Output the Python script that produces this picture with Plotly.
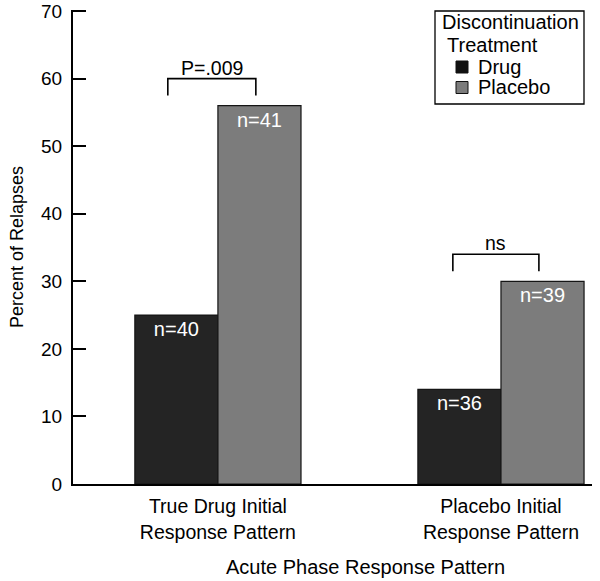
import plotly.graph_objects as go

# ---- data ----
categories = ["True Drug Initial<br>Response Pattern", "Placebo Initial<br>Response Pattern"]
series_names = ["Drug", "Placebo"]
series_colors = ["#242424", "#7c7c7c"]
drug_values = [25, 14]
placebo_values = [56, 30]
drug_n = ["n=40", "n=36"]
placebo_n = ["n=41", "n=39"]
y_ticks = [0, 10, 20, 30, 40, 50, 60, 70]
legend_title = ["Discontinuation", "Treatment"]
# significance brackets: (group index, left offset, right offset, top y, leg bottom y, label)
brackets = [
    (0, -0.177, 0.134, 60.0, 57.5, "P=.009"),
    (1, -0.170, 0.134, 34.0, 31.5, "ns"),
]

FONT = "Liberation Sans, Arial, Helvetica, sans-serif"

FIG_W, FIG_H = 600, 581
# plot-area geometry in pixels (for placing legend/annotations)
L, R, T, B = 73, 592, 10, 484
W, H = R - L, B - T
def px(x):
    return (x - L) / W
def py(y):
    return (B - y) / H

fig = go.Figure()
for name, color, vals, ns in [(series_names[0], series_colors[0], drug_values, drug_n),
                              (series_names[1], series_colors[1], placebo_values, placebo_n)]:
    fig.add_trace(go.Bar(
        x=categories, y=vals, name=name,
        marker=dict(color=color, line=dict(color="#151515", width=1.2)),
        text=ns, textposition="inside", insidetextanchor="end",
        textfont=dict(color="white", size=20, family=FONT),
        textangle=0, showlegend=False,
    ))

for gi, lo, ro, ytop, ybot, label in brackets:
    x0, x1 = gi + lo, gi + ro
    fig.add_shape(type="path",
                  path=f"M {x0},{ybot} L {x0},{ytop} L {x1},{ytop} L {x1},{ybot}",
                  xref="x", yref="y", line=dict(color="black", width=1.6))
    fig.add_annotation(x=(x0 + x1) / 2, y=ytop, xref="x", yref="y", text=label,
                       showarrow=False, font=dict(size=19.5, color="black", family=FONT),
                       yanchor="bottom", yshift=-2)

# x-axis title (offset to the right, as in the reference)
fig.add_annotation(x=px(365), y=py(567), xref="paper", yref="paper",
                   text="Acute Phase Response Pattern", showarrow=False,
                   font=dict(size=20, color="black", family=FONT),
                   xanchor="center", yanchor="middle")

# ---- legend box (drawn to match the reference's compact spacing) ----
fig.add_shape(type="rect", xref="paper", yref="paper",
              x0=px(435), x1=px(584), y0=py(104), y1=py(11),
              line=dict(color="black", width=1.3), fillcolor="white", layer="above")
fig.add_annotation(x=px(440), y=py(22), xref="paper", yref="paper", text=legend_title[0],
                   showarrow=False, xanchor="left", yanchor="middle",
                   font=dict(size=20, color="black", family=FONT))
fig.add_annotation(x=px(445), y=py(45), xref="paper", yref="paper", text=legend_title[1],
                   showarrow=False, xanchor="left", yanchor="middle",
                   font=dict(size=20, color="black", family=FONT))
for i, (name, color) in enumerate(zip(series_names, series_colors)):
    cy = 67 + i * 20.5
    fig.add_shape(type="rect", xref="paper", yref="paper",
                  x0=px(456), x1=px(468), y0=py(cy + 6), y1=py(cy - 6),
                  line=dict(color="#111111", width=1), fillcolor="#111111" if i == 0 else color,
                  layer="above")
    fig.add_annotation(x=px(476), y=py(cy), xref="paper", yref="paper", text=name,
                       showarrow=False, xanchor="left", yanchor="middle",
                       font=dict(size=20, color="black", family=FONT))

fig.update_layout(
    width=FIG_W, height=FIG_H,
    margin=dict(l=L, r=FIG_W - R, t=T, b=FIG_H - B, autoexpand=False),
    paper_bgcolor="white", plot_bgcolor="white",
    barmode="group", bargap=0.413, bargroupgap=0,
    font=dict(family=FONT, size=18, color="black"),
    showlegend=False,
    xaxis=dict(
        range=[-0.512, 1.3216], showline=True, linecolor="black", linewidth=2,
        ticks="", showgrid=False, zeroline=False, automargin=False,
        tickfont=dict(size=19.5, family=FONT), ticklabelstandoff=4,
    ),
    yaxis=dict(
        range=[0, 70.15], tickvals=y_ticks, showline=True, linecolor="black", linewidth=2,
        ticks="inside", ticklen=13, tickwidth=1.6, tickcolor="black",
        showgrid=False, zeroline=False, automargin=False,
        tickfont=dict(size=19, family=FONT), ticklabelstandoff=5,
        ticklabeloverflow="allow",
        title=dict(text="Percent of Relapses", font=dict(size=18, family=FONT), standoff=13),
    ),
)

fig.write_html("out.html",
               config={"displayModeBar": False},
               post_script="document.body.style.margin='0';document.body.style.padding='0';")
